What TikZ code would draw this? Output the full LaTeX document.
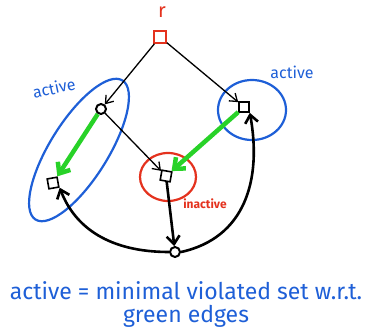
\documentclass[tikz,border=0pt]{standalone}
\usepackage{fontspec}
\setmainfont{Fira Sans}
\usetikzlibrary{arrows.meta}
\definecolor{hblue}{RGB}{30,95,215}
\definecolor{hred}{RGB}{228,50,30}
\definecolor{hgreen}{RGB}{40,210,40}
\tikzset{
  sq/.style={draw,rectangle,minimum size=10pt,inner sep=0pt,line width=1.6pt},
  rsq/.style={sq,draw=hred,minimum size=12pt},
  circ/.style={draw,circle,minimum size=10pt,inner sep=0pt,line width=2pt},
  thin arrow/.style={line width=1.3pt,-{Straight Barb[length=7pt,width=10pt]}},
  thick arrow/.style={line width=2.6pt,-{Straight Barb[length=8pt,width=13pt]}},
  green arrow/.style={draw=hgreen,line width=4.5pt,-{Straight Barb[length=9pt,width=15pt]}},
  set/.style={line width=2.2pt},
  hand/.style={font=\fontsize{16}{18}\selectfont},
  big/.style={font=\fontsize{23}{26}\selectfont},
}
\begin{document}
\begin{tikzpicture}[x=1pt,y=-1pt]
\useasboundingbox (0,0) rectangle (366,329);
% nodes
\node[rsq] (r) at (160,37) {};
\node[text=hred,font=\fontsize{20}{22}\selectfont] (rl) at (162,12) {r};
\node[circ] (a) at (101,109) {};
\node[sq] (b) at (244,107) {};
\node[sq,rotate=10] (c) at (53,183) {};
\node[sq,rotate=-10] (d) at (166,176) {};
\node[circ] (e) at (175,252) {};
% sets
\draw[hblue,set,rotate around={58:(79,150)}] (79,150) ellipse (82 and 29);
\draw[hblue,set] (252,110) ellipse (34 and 30);
\draw[hred,set] (168,177) ellipse (28 and 24);
% labels
\node[text=hblue,hand,rotate=12] (la) at (54,88) {active};
\node[text=hblue,hand] (lb) at (292,72) {active};
\node[text=hred,font=\fontsize{12}{14}\selectfont\bfseries] (li) at (205,204) {inactive};
\node[text=hblue,big] (t1) at (186,291) {active = minimal violated set w.r.t.};
\node[text=hblue,big] (t2) at (186,316) {green edges};
% edges
\draw[thin arrow] (r) -- (a);
\draw[thin arrow] (r) -- (b);
\draw[thin arrow] (a) -- (d);
\draw[green arrow] (a) -- (c);
\draw[green arrow] (b) -- (d);
\draw[thick arrow] (d) -- (e);
\draw[thick arrow] (e.west) .. controls (110,252) and (75,228) .. (c.south east);
\draw[thick arrow] (e.east) .. controls (245,238) and (262,180) .. (b.south east);
\end{tikzpicture}
\end{document}
